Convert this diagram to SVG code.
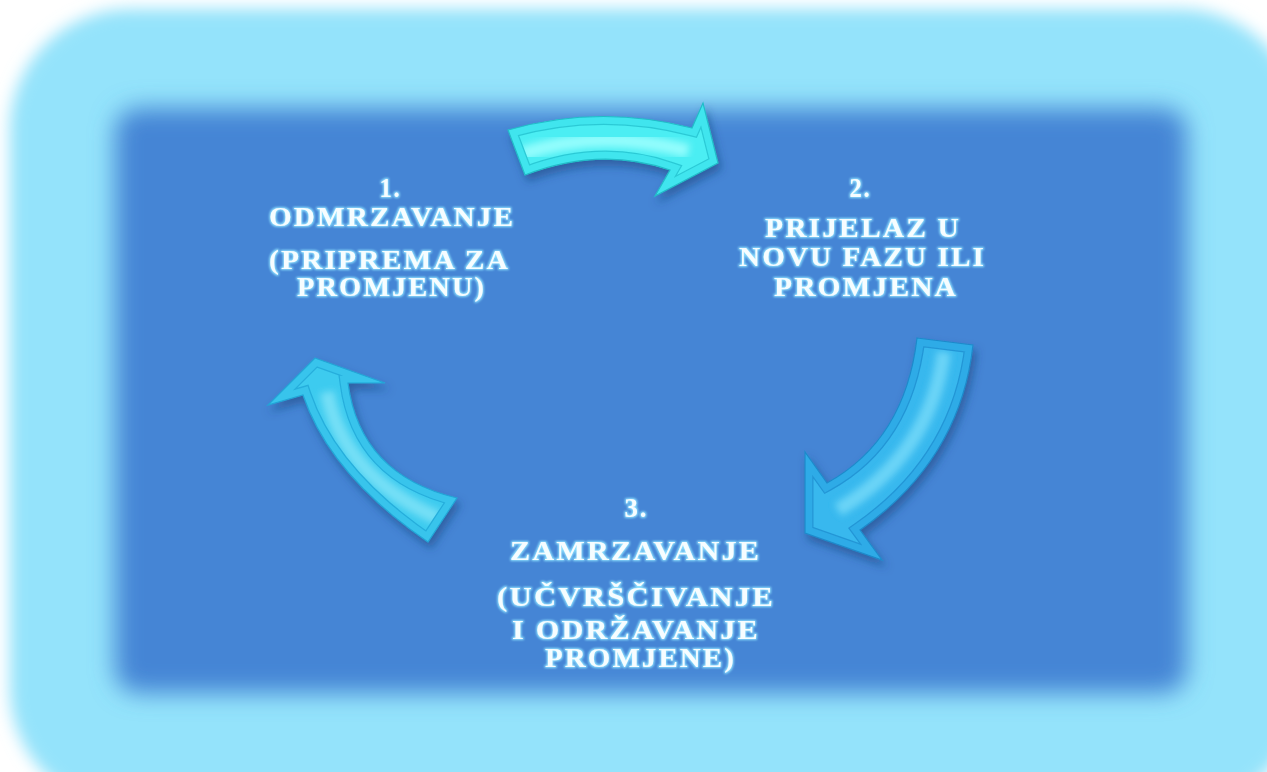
<svg xmlns="http://www.w3.org/2000/svg" xmlns:xlink="http://www.w3.org/1999/xlink" width="1267" height="772" viewBox="0 0 1267 772">
<style>
.t{font-family:"Liberation Serif","Times New Roman",serif;font-weight:bold;font-size:28px;letter-spacing:2px;fill:#F6FDFF;text-anchor:middle;}
</style>
<defs>
<filter id="blurOuter" x="-5%" y="-5%" width="110%" height="110%"><feGaussianBlur stdDeviation="8"/></filter>
<filter id="blurInner" x="-10%" y="-10%" width="120%" height="120%"><feGaussianBlur stdDeviation="12.5"/></filter>
<filter id="glow" x="-10%" y="-30%" width="120%" height="160%">
<feMorphology in="SourceAlpha" operator="dilate" radius="1.2" result="d"/>
<feGaussianBlur in="d" stdDeviation="1.2" result="b"/>
<feFlood flood-color="#8EE2FF"/>
<feComposite in2="b" operator="in" result="g"/>
<feMerge><feMergeNode in="g"/><feMergeNode in="SourceGraphic"/></feMerge>
</filter>
<filter id="shadow" x="-20%" y="-20%" width="140%" height="150%">
<feDropShadow dx="3" dy="6" stdDeviation="4" flood-color="#163a72" flood-opacity="0.5"/>
</filter>
<filter id="soft" x="-20%" y="-20%" width="140%" height="140%"><feGaussianBlur stdDeviation="3.5"/></filter>
<path id="a1" d="M 508,130 Q 600,104 692,128 L 703,103 L 718,163 L 655,196 L 670,170 Q 600,146 525,175 Z"/>
<path id="a2" d="M 917,338 L 973,345 Q 960,460 860,530 L 882,560 L 805,533 L 805,452 L 827,483 Q 905,440 917,338 Z"/>
<path id="a3" d="M 315,358 L 385,383 L 348,383 Q 360,475 457,498 L 428,542 Q 330,475 303,395 L 268,405 Z"/>
<clipPath id="c1"><use xlink:href="#a1"/></clipPath>
<clipPath id="c2"><use xlink:href="#a2"/></clipPath>
<clipPath id="c3"><use xlink:href="#a3"/></clipPath>
</defs>

<g id="background">
<rect x="10" y="9" width="1290" height="800" rx="120" fill="#94E3FB" filter="url(#blurOuter)"/>
<rect x="115" y="108" width="1072" height="585" rx="24" fill="#4585D5" filter="url(#blurInner)"/>
</g>

<g id="connectors">
<g id="arrow1" filter="url(#shadow)">
<use xlink:href="#a1" fill="#4BEEF3"/>
<g clip-path="url(#c1)">
<path d="M 522,154 Q 600,128 688,151" fill="none" stroke="#92FDFD" stroke-width="14" filter="url(#soft)"/>
<use xlink:href="#a1" fill="none" stroke="#2CCAD6" stroke-width="17" stroke-linejoin="miter"/>
<use xlink:href="#a1" fill="none" stroke="#3FE5EE" stroke-width="14.5" stroke-linejoin="miter"/>
</g>
<use xlink:href="#a1" fill="none" stroke="#22BBC8" stroke-width="1.2"/>
</g>
<g id="arrow2" filter="url(#shadow)">
<use xlink:href="#a2" fill="#37B8EE"/>
<g clip-path="url(#c2)">
<path d="M 944,352 Q 930,455 838,510" fill="none" stroke="#6AD4F7" stroke-width="14" filter="url(#soft)"/>
<use xlink:href="#a2" fill="none" stroke="#2496D6" stroke-width="17" stroke-linejoin="miter"/>
<use xlink:href="#a2" fill="none" stroke="#2EABE7" stroke-width="14.5" stroke-linejoin="miter"/>
</g>
<use xlink:href="#a2" fill="none" stroke="#1E8ACB" stroke-width="1.2"/>
</g>
<g id="arrow3" filter="url(#shadow)">
<use xlink:href="#a3" fill="#3DCBEF"/>
<g clip-path="url(#c3)">
<path d="M 438,518 Q 342,475 327,392" fill="none" stroke="#74DFF6" stroke-width="14" filter="url(#soft)"/>
<use xlink:href="#a3" fill="none" stroke="#27AEDC" stroke-width="17" stroke-linejoin="miter"/>
<use xlink:href="#a3" fill="none" stroke="#37C4EC" stroke-width="14.5" stroke-linejoin="miter"/>
</g>
<use xlink:href="#a3" fill="none" stroke="#22A4D6" stroke-width="1.2"/>
</g>
</g>

<g id="node1" filter="url(#glow)">
<text class="t" x="390.5" y="197" textLength="22" lengthAdjust="spacingAndGlyphs">1.</text>
<text class="t" x="392" y="226" textLength="246" lengthAdjust="spacingAndGlyphs">ODMRZAVANJE</text>
<text class="t" x="389.5" y="269" textLength="241" lengthAdjust="spacingAndGlyphs">(PRIPREMA ZA</text>
<text class="t" x="391.5" y="296" textLength="189" lengthAdjust="spacingAndGlyphs">PROMJENU)</text>
</g>
<g id="node2" filter="url(#glow)">
<text class="t" x="860.5" y="197" textLength="22" lengthAdjust="spacingAndGlyphs">2.</text>
<text class="t" x="863" y="237" textLength="196" lengthAdjust="spacingAndGlyphs">PRIJELAZ U</text>
<text class="t" x="862.5" y="266" textLength="247" lengthAdjust="spacingAndGlyphs">NOVU FAZU ILI</text>
<text class="t" x="866" y="296" textLength="184" lengthAdjust="spacingAndGlyphs">PROMJENA</text>
</g>
<g id="node3" filter="url(#glow)">
<text class="t" x="636.5" y="517" textLength="24" lengthAdjust="spacingAndGlyphs">3.</text>
<text class="t" x="635.5" y="560" textLength="251" lengthAdjust="spacingAndGlyphs">ZAMRZAVANJE</text>
<text class="t" x="636" y="606" textLength="278" lengthAdjust="spacingAndGlyphs">(UČVRŠČIVANJE</text>
<text class="t" x="636" y="639" textLength="248" lengthAdjust="spacingAndGlyphs">I ODRŽAVANJE</text>
<text class="t" x="640.5" y="667" textLength="191" lengthAdjust="spacingAndGlyphs">PROMJENE)</text>
</g>
</svg>
